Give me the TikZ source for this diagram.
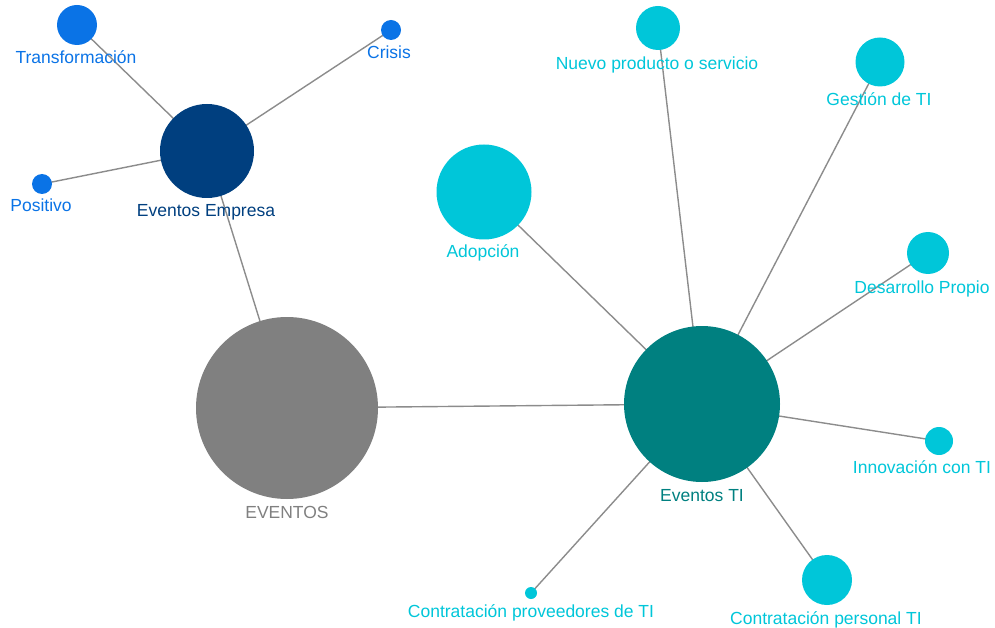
\documentclass[tikz,border=0pt]{standalone}
\usepackage{fontspec}
\setmainfont{Liberation Sans}
\usetikzlibrary{backgrounds}
\definecolor{cEv}{HTML}{808080}
\definecolor{cEmp}{HTML}{003F7F}
\definecolor{cBlue}{HTML}{0A73E6}
\definecolor{cTI}{HTML}{008080}
\definecolor{cCyan}{HTML}{00C6D9}
\definecolor{cEdge}{HTML}{8C8C8C}
\begin{document}
\begin{tikzpicture}[x=1pt,y=-1pt,
  bubble/.style={circle,inner sep=0pt,outer sep=0pt,draw=none},
  lbl/.style={anchor=base,inner sep=0pt,font=\fontsize{17.5}{20}\selectfont},
  edge/.style={draw=cEdge,line width=1.4pt}]
\useasboundingbox (0,0) rectangle (995,628);
% nodes
\node[bubble,fill=cEv,minimum size=182pt] (ev) at (287,408) {};
\node[bubble,fill=cEmp,minimum size=94pt] (emp) at (207,151) {};
\node[bubble,fill=cBlue,minimum size=40pt] (tra) at (77,25) {};
\node[bubble,fill=cBlue,minimum size=20pt] (cri) at (391,30) {};
\node[bubble,fill=cBlue,minimum size=20pt] (pos) at (42,184) {};
\node[bubble,fill=cTI,minimum size=156pt] (ti) at (702,404) {};
\node[bubble,fill=cCyan,minimum size=95pt] (ado) at (484,192) {};
\node[bubble,fill=cCyan,minimum size=44pt] (nue) at (658,28) {};
\node[bubble,fill=cCyan,minimum size=49pt] (ges) at (880,62) {};
\node[bubble,fill=cCyan,minimum size=42pt] (des) at (928,253) {};
\node[bubble,fill=cCyan,minimum size=28pt] (inn) at (939,441) {};
\node[bubble,fill=cCyan,minimum size=50pt] (per) at (827,580) {};
\node[bubble,fill=cCyan,minimum size=12pt] (pro) at (531,593) {};
% edges, behind the bubbles
\begin{scope}[on background layer]
\foreach \a/\b in {ev/emp,ev/ti,emp/tra,emp/cri,emp/pos,ti/ado,ti/nue,ti/ges,ti/des,ti/inn,ti/per,ti/pro}
  \draw[edge] (\a.center) -- (\b.center);
\end{scope}
% labels
\node[lbl,text=cEv] (lev) at (287,518) {EVENTOS};
\node[lbl,text=cEmp] (lemp) at (206,217) {Eventos Empresa};
\node[lbl,text=cBlue] (ltra) at (76,64) {Transformación};
\node[lbl,text=cBlue] (lcri) at (389,59) {Crisis};
\node[lbl,text=cBlue] (lpos) at (41,212) {Positivo};
\node[lbl,text=cTI] (lti) at (702,501) {Eventos TI};
\node[lbl,text=cCyan] (lado) at (483,258) {Adopción};
\node[lbl,text=cCyan] (lnue) at (657,70) {Nuevo producto o servicio};
\node[lbl,text=cCyan] (lges) at (879,106) {Gestión de TI};
\node[lbl,text=cCyan] (ldes) at (922,293) {Desarrollo Propio};
\node[lbl,text=cCyan] (linn) at (922,473) {Innovación con TI};
\node[lbl,text=cCyan] (lpro) at (531,617) {Contratación proveedores de TI};
\node[lbl,text=cCyan] (lper) at (826,624) {Contratación personal TI};
\end{tikzpicture}
\end{document}
